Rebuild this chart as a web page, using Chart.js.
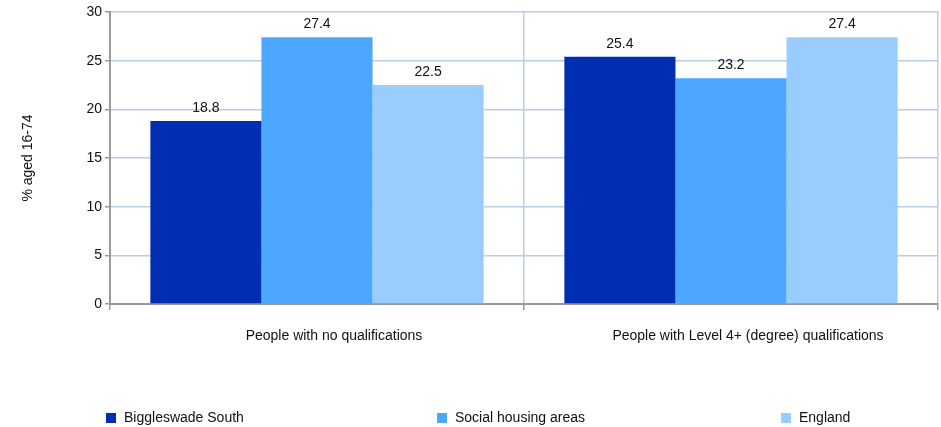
<!DOCTYPE html>
<html>
<head>
<meta charset="utf-8">
<script src="https://cdn.jsdelivr.net/npm/chart.js@4.4.1/dist/chart.umd.min.js"></script>
<style>
  body { margin: 0; background: #fff; }
  #wrap { position: relative; width: 941px; height: 427px; }
  #legend { position: absolute; left: 0; top: 408px; width: 941px; height: 18px;
    font: 14px "Liberation Sans", Arial, sans-serif; color: #111; }
  .item { position: absolute; top: 0; white-space: nowrap; }
  .box { position: absolute; top: 5px; width: 10px; height: 10px; }
  .lbl { position: absolute; left: 18px; top: 0; line-height: 18px; }
</style>
</head>
<body>
<div id="wrap">
  <canvas id="myChart" width="941" height="427"></canvas>
  <div id="legend"></div>
</div>
<script>
var categories = ['People with no qualifications', 'People with Level 4+ (degree) qualifications'];
var seriesNames = ['Biggleswade South', 'Social housing areas', 'England'];
var biggleswade = [18.8, 25.4];
var socialHousing = [27.4, 23.2];
var england = [22.5, 27.4];
var colours = ['#002EB2', '#4DA6FF', '#99CCFF'];
var legendX = [106, 437, 781];

var gridBlue = '#B9CDE5';
var axisGrey = '#999999';
var fontFam = '"Liberation Sans", Arial, sans-serif';

// value labels above each bar
var barValues = {
  id: 'barValues',
  afterDatasetsDraw: function(chart) {
    var ctx = chart.ctx;
    ctx.save();
    ctx.font = '14px ' + fontFam;
    ctx.fillStyle = '#111';
    ctx.textAlign = 'center';
    ctx.textBaseline = 'bottom';
    chart.data.datasets.forEach(function(ds, i) {
      chart.getDatasetMeta(i).data.forEach(function(bar, j) {
        ctx.fillText(ds.data[j].toFixed(1), bar.x, bar.y - 6);
      });
    });
    ctx.restore();
  }
};

var ctx = document.getElementById('myChart');
var myChart = new Chart(ctx, {
  type: 'bar',
  data: {
    labels: categories,
    datasets: [
      { label: seriesNames[0], data: biggleswade, backgroundColor: colours[0] },
      { label: seriesNames[1], data: socialHousing, backgroundColor: colours[1] },
      { label: seriesNames[2], data: england, backgroundColor: colours[2] }
    ]
  },
  options: {
    responsive: false,
    animation: false,
    events: [],
    layout: { padding: { top: 12, right: 3, left: 0, bottom: 0 } },
    datasets: { bar: { categoryPercentage: 0.805, barPercentage: 1.0 } },
    plugins: {
      legend: { display: false },
      tooltip: { enabled: false }
    },
    scales: {
      x: {
        grid: { offset: true, color: gridBlue, tickColor: axisGrey, tickLength: 6, lineWidth: 1.5 },
        border: { color: axisGrey, width: 2 },
        ticks: { color: '#111', padding: 18, labelOffset: 17, font: { family: fontFam, size: 14 } },
        afterFit: function(scale) { scale.height = 123; }
      },
      y: {
        min: 0, max: 30,
        ticks: { stepSize: 5, color: '#111', padding: 3, font: { family: fontFam, size: 14 } },
        grid: { color: gridBlue, tickColor: axisGrey, tickLength: 5, lineWidth: 1.5 },
        border: { color: axisGrey, width: 2 },
        title: { display: true, text: '% aged 16-74', color: '#111', padding: { top: 20, bottom: 0 },
          font: { family: fontFam, size: 14 } },
        afterFit: function(scale) { scale.width = 110; }
      }
    }
  },
  plugins: [barValues]
});

// legend built from the same series arrays
var legend = document.getElementById('legend');
seriesNames.forEach(function(name, i) {
  var item = document.createElement('div');
  item.className = 'item';
  item.style.left = legendX[i] + 'px';
  item.innerHTML = '<span class="box" style="background:' + colours[i] + '"></span><span class="lbl">' + name + '</span>';
  legend.appendChild(item);
});
</script>
</body>
</html>
